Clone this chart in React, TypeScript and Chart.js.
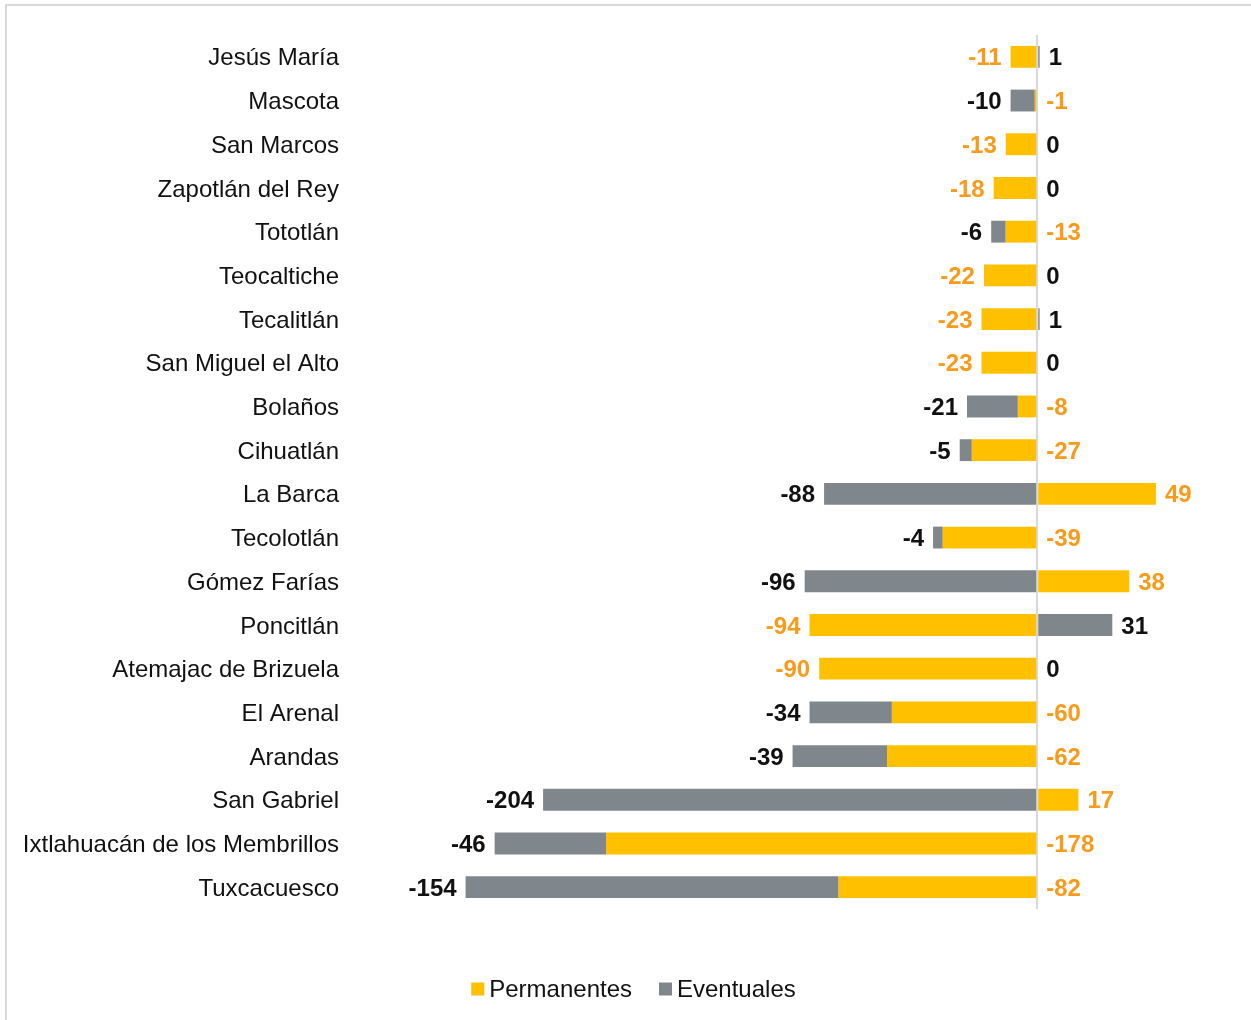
import React, { useEffect, useRef } from "react";
import { Chart, registerables } from "chart.js";

Chart.register(...registerables);

const categories = [
  "Jesús María",
  "Mascota",
  "San Marcos",
  "Zapotlán del Rey",
  "Tototlán",
  "Teocaltiche",
  "Tecalitlán",
  "San Miguel el Alto",
  "Bolaños",
  "Cihuatlán",
  "La Barca",
  "Tecolotlán",
  "Gómez Farías",
  "Poncitlán",
  "Atemajac de Brizuela",
  "El Arenal",
  "Arandas",
  "San Gabriel",
  "Ixtlahuacán de los Membrillos",
  "Tuxcacuesco",
];

const permanentes = [-11, -1, -13, -18, -13, -22, -23, -23, -8, -27, 49, -39, 38, -94, -90, -60, -62, 17, -178, -82];
const eventuales = [1, -10, 0, 0, -6, 0, 1, 0, -21, -5, -88, -4, -96, 31, 0, -34, -39, -204, -46, -154];

const FONT = "'Liberation Sans', Arial, sans-serif";
const YELLOW = "#FFC000";
const GRAY = "#7F878C";
const ORANGE = "#F99A1A";
const LABEL_COLORS = [ORANGE, "#111111"];

const valueLabels = {
  id: "valueLabels",
  afterDatasetsDraw(chart: any) {
    const ctx = chart.ctx;
    const m0 = chart.getDatasetMeta(0);
    const m1 = chart.getDatasetMeta(1);
    const zero = chart.scales.x.getPixelForValue(0);
    ctx.save();
    ctx.font = `bold 24px ${FONT}`;
    ctx.textBaseline = "middle";
    for (let i = 0; i < categories.length; i++) {
      const els = [m0.data[i], m1.data[i]];
      let leftEnd = zero;
      let rightEnd = zero;
      els.forEach((el: any) => {
        leftEnd = Math.min(leftEnd, el.x, el.base);
        rightEnd = Math.max(rightEnd, el.x, el.base);
      });
      const vals = [permanentes[i], eventuales[i]];
      const leftIdx = eventuales[i] < 0 ? 1 : 0;
      const rightIdx = 1 - leftIdx;
      const y = els[0].y;
      ctx.textAlign = "right";
      ctx.fillStyle = LABEL_COLORS[leftIdx];
      ctx.fillText(String(vals[leftIdx]), leftEnd - 9, y + 2);
      ctx.textAlign = "left";
      ctx.fillStyle = LABEL_COLORS[rightIdx];
      ctx.fillText(String(vals[rightIdx]), rightEnd + 9, y + 2);
    }
    ctx.restore();
  },
};

const customLegend = {
  id: "customLegend",
  afterDraw(chart: any) {
    const ctx = chart.ctx;
    ctx.save();
    ctx.font = `24px ${FONT}`;
    ctx.textBaseline = "middle";
    const box = 13;
    const gapText = 5;
    const gapItem = 27;
    const items = chart.data.datasets.map((d: any) => ({
      label: d.label,
      color: d.backgroundColor,
      w: ctx.measureText(d.label).width,
    }));
    const total =
      items.reduce((s: number, it: any) => s + box + gapText + it.w, 0) +
      gapItem * (items.length - 1);
    let x = chart.width / 2 - total / 2 + 8;
    const y = 989;
    items.forEach((it: any) => {
      ctx.fillStyle = it.color;
      ctx.fillRect(x, y - box / 2, box, box);
      x += box + gapText;
      ctx.fillStyle = "#111111";
      ctx.textAlign = "left";
      ctx.fillText(it.label, x, y + 1);
      x += it.w + gapItem;
    });
    // frame
    ctx.strokeStyle = "#D9D9D9";
    ctx.lineWidth = 2;
    ctx.beginPath();
    ctx.moveTo(6, chart.height);
    ctx.lineTo(6, 5);
    ctx.lineTo(chart.width, 5);
    ctx.stroke();
    ctx.restore();
  },
};

export default function App() {
  const ref = useRef<HTMLCanvasElement | null>(null);
  useEffect(() => {
    if (!ref.current) return;
    const chart = new Chart(ref.current, {
      type: "bar",
      data: {
        labels: categories,
        datasets: [
          { label: "Permanentes", data: permanentes, backgroundColor: YELLOW, borderWidth: 0 },
          { label: "Eventuales", data: eventuales, backgroundColor: GRAY, borderWidth: 0 },
        ],
      },
      options: {
        indexAxis: "y",
        responsive: false,
        animation: false,
        devicePixelRatio: 1,
        layout: { padding: { top: 35, right: 20, bottom: 0, left: 0 } },
        datasets: { bar: { categoryPercentage: 1, barPercentage: 0.5 } },
        plugins: { legend: { display: false }, tooltip: { enabled: false } },
        scales: {
          x: {
            stacked: true,
            min: -280,
            max: 80,
            ticks: { display: false, stepSize: 10 },
            border: { display: false },
            grid: {
              drawTicks: false,
              lineWidth: 2,
              color: (c: any) => (c.tick && c.tick.value === 0 ? "#D9D9D9" : "rgba(0,0,0,0)"),
            },
            afterFit: (s: any) => {
              s.height = 111;
            },
          },
          y: {
            stacked: true,
            border: { display: false },
            grid: { display: false, drawTicks: false },
            ticks: {
              padding: 20,
              labelOffset: 2,
              color: "#111111",
              font: { family: FONT, size: 24 },
            },
            afterFit: (s: any) => {
              s.width = 359;
            },
          },
        },
      },
      plugins: [valueLabels, customLegend],
    });
    return () => chart.destroy();
  }, []);
  return (
    <div style={{ position: "absolute", left: 0, top: 0, width: 1251, height: 1020, background: "#fff" }}>
      <canvas ref={ref} width={1251} height={1020} />
    </div>
  );
}
